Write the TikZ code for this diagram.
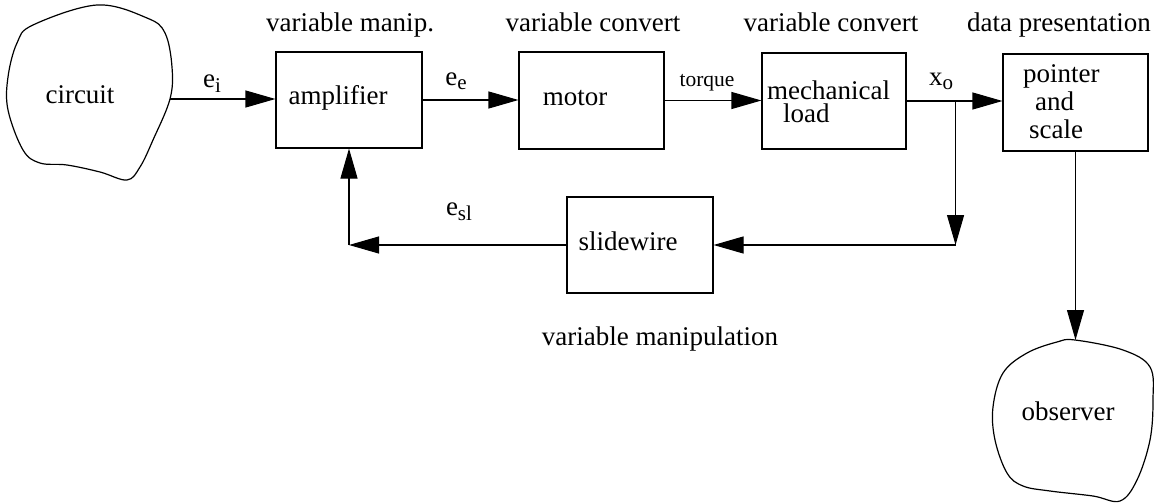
\documentclass[tikz,border=0pt]{standalone}
\usepackage{fontspec}
\setmainfont{Liberation Serif}
\usetikzlibrary{arrows.meta,calc}
\newcommand{\lsub}[1]{\raisebox{-5pt}{\fontsize{21}{21}\selectfont #1}}
\tikzset{
  blk/.style={draw, line width=1.1pt, inner sep=0pt},
  txt/.style={anchor=base, inner sep=0pt, font=\fontsize{27}{27}\selectfont},
  small/.style={anchor=base, inner sep=0pt, font=\fontsize{21.5}{21.5}\selectfont},
  arr/.style={line width=1.1pt, -{Triangle[length=30pt,width=17pt]}},
  blob/.style={draw, line width=1.2pt},
}
\begin{document}
\begin{tikzpicture}[x=1pt,y=-1pt]
\useasboundingbox (0,0) rectangle (1160,503);
% blobs
\draw[blob] plot[smooth cycle, tension=0.6] coordinates {(33,25) (97,5) (147,18) (165,33) (172,67) (170,99) (153,140) (140,167) (127,180) (100,172) (67,165) (40,163) (23,150) (8,110) (8,77) (17,43)};
\node[txt] (circ) at (80,103) {circuit};
\coordinate (ci-out) at (170,99);
\draw[blob] plot[smooth cycle, tension=0.6] coordinates {(1075,340) (1123,350) (1150,367) (1153,400) (1150,440) (1137,480) (1120,501) (1093,496) (1050,491) (1023,486) (1007,473) (995,440) (993,407) (1003,373) (1027,353) (1057,342)};
\node[txt] (obs) at (1068,420) {observer};
% boxes
\node[blk, minimum width=146pt, minimum height=96pt] (amp) at (349,100) {};
\node[blk, minimum width=145pt, minimum height=97pt] (motor) at (591.5,100.5) {};
\node[blk, minimum width=144pt, minimum height=96pt] (mech) at (834,101) {};
\node[blk, minimum width=145pt, minimum height=97pt] (ptr) at (1075.5,102.5) {};
\node[blk, minimum width=146pt, minimum height=96pt] (sw) at (640,245) {};
% box texts
\node[txt] (amp-t) at (338,105) {amplifier};
\node[txt] (motor-t) at (575,106) {motor};
\node[txt, anchor=north west, align=left, font=\fontsize{27}{23}\selectfont] (mech-t) at (767,81) {mechanical\\\hspace*{16pt}load};
\node[txt, anchor=north west, align=left, font=\fontsize{27}{28}\selectfont] (ptr-t) at (1023,64) {pointer\\\hspace*{12pt}and\\\hspace*{6pt}scale};
\node[txt] (sw-t) at (628,250) {slidewire};
% headings
\node[txt] (h1) at (350,32) {variable manip.};
\node[txt] (h2) at (593,32) {variable convert};
\node[txt] (h3) at (831,32) {variable convert};
\node[txt] (h4) at (1059,32) {data presentation};
\node[txt] (h5) at (660,345) {variable manipulation};
% signal labels
\node[txt] (l-ei) at (212,88) {e\lsub{i}};
\node[txt] (l-ee) at (456,85) {e\lsub{e}};
\node[small] (l-tq) at (707,86) {torque};
\node[txt] (l-xo) at (941,85) {x\lsub{o}};
\node[txt] (l-esl) at (459,215) {e\lsub{sl}};
% connectors
\draw[arr] (ci-out) -- (ci-out -| amp.west);
\draw[arr] (amp.east) -- (amp.east -| motor.west);
\draw[arr] (motor.east) -- (motor.east -| mech.west);
\draw[arr] (mech.east) -- (mech.east -| ptr.west);
\coordinate (jn) at ($(mech.east)+(49,0)$);
\coordinate (fb1) at (jn |- sw.east);
\draw[arr] (jn) -- (fb1);
\draw[arr] (fb1) -- (sw.east);
\coordinate (fb2) at (amp.south |- sw.west);
\draw[arr] (sw.west) -- (fb2);
\draw[arr] (fb2) -- (amp.south);
\coordinate (obs-in) at (ptr.south |- 0,340);
\draw[arr] (ptr.south) -- (obs-in);
\end{tikzpicture}
\end{document}
